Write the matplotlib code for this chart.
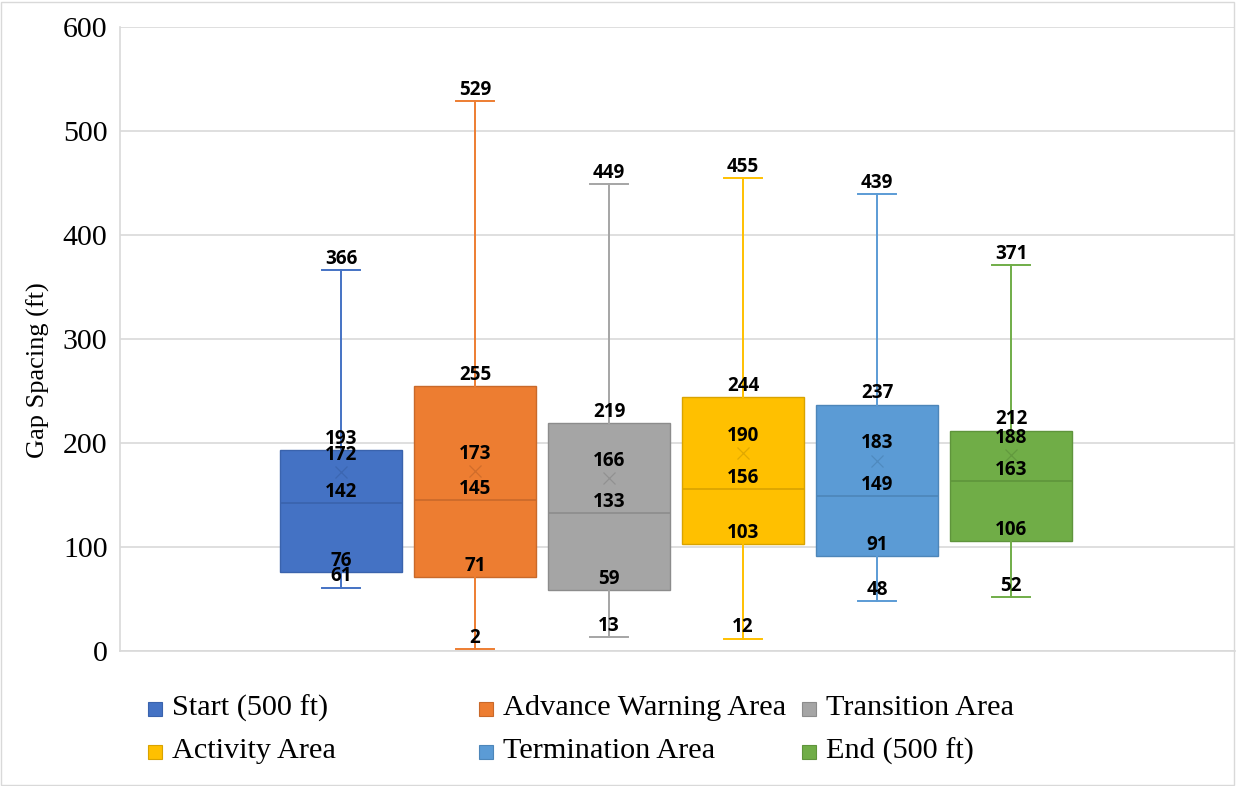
import matplotlib
matplotlib.use("Agg")
import matplotlib.pyplot as plt
from matplotlib.patches import Rectangle

# Summary statistics per work-zone segment (gap spacing in ft)
series_names = ["Start (500 ft)", "Advance Warning Area", "Transition Area",
                "Activity Area", "Termination Area", "End (500 ft)"]
whisker_low = [61, 2, 13, 12, 48, 52]
q1_values = [76, 71, 59, 103, 91, 106]
median_values = [142, 145, 133, 156, 149, 163]
mean_values = [172, 173, 166, 190, 183, 188]
q3_values = [193, 255, 219, 244, 237, 212]
whisker_high = [366, 529, 449, 455, 439, 371]

y_ticks = [0, 100, 200, 300, 400, 500, 600]

fill_colors = ["#4472C4", "#ED7D31", "#A5A5A5", "#FFC000", "#5B9BD5", "#70AD47"]
edge_colors = ["#3A63AD", "#C9692A", "#8C8C8C", "#D9A300", "#4D86B9", "#5F943C"]

W, H = 1236, 786
fig = plt.figure(figsize=(W / 100, H / 100), dpi=100)
ax = fig.add_axes([120 / W, 1 - 651 / H, (1235 - 120) / W, (651 - 27) / H])

grid_c = "#D9D9D9"
positions = list(range(1, len(series_names) + 1))
lab_font = dict(family=["Open Sans", "DejaVu Sans"], weight="bold", size=13.6, color="black")

for i, pos in enumerate(positions):
    stats = [dict(med=median_values[i], q1=q1_values[i], q3=q3_values[i],
                  whislo=whisker_low[i], whishi=whisker_high[i],
                  mean=mean_values[i], fliers=[])]
    ax.bxp(stats, positions=[pos], widths=0.91, capwidths=0.28,
           patch_artist=True, showmeans=True, showfliers=False,
           boxprops=dict(facecolor=fill_colors[i], edgecolor=edge_colors[i], linewidth=1.0),
           medianprops=dict(color=edge_colors[i], linewidth=1.2),
           whiskerprops=dict(color=fill_colors[i], linewidth=1.4),
           capprops=dict(color=fill_colors[i], linewidth=1.4),
           meanprops=dict(marker="x", markersize=9, markeredgecolor=edge_colors[i],
                          markeredgewidth=0.9, alpha=0.8),
           zorder=3)

    # value labels sit just above each statistic
    for v in (whisker_low[i], q1_values[i], median_values[i], q3_values[i], whisker_high[i]):
        ax.annotate(f"{v}", (pos, v), xytext=(0, 8), textcoords="offset points",
                    ha="center", va="center", zorder=5, **lab_font)
    ax.annotate(f"{mean_values[i]}", (pos, mean_values[i]), xytext=(0, 12.5),
                textcoords="offset points", ha="center", va="center", zorder=5, **lab_font)

ax.set_xlim(1 - 1.65, 1 - 1.65 + 1115 / 134)
ax.set_ylim(0, 600)
ax.set_yticks(y_ticks)
ax.set_yticklabels([str(t) for t in y_ticks], family="Liberation Serif", fontsize=21.5)
ax.set_xticks([])
ax.tick_params(axis="y", length=0, pad=9)
ax.yaxis.grid(True, color=grid_c, linewidth=1.2, zorder=0)
ax.set_axisbelow(True)
for side in ("top", "right"):
    ax.spines[side].set_visible(False)
for side in ("left", "bottom"):
    ax.spines[side].set_color(grid_c)
    ax.spines[side].set_linewidth(1.2)

fig.text(38 / W, 1 - 370 / H, "Gap Spacing (ft)", rotation=90, ha="center", va="center",
         family="Liberation Serif", fontsize=19)

# legend laid out in a 3 x 2 grid below the plot
col_x = [148, 479, 802]
row_y = [708, 751]
for i, name in enumerate(series_names):
    cx = col_x[i % 3]
    cy = row_y[i // 3]
    fig.add_artist(Rectangle((cx / W, 1 - (cy + 8) / H), 14 / W, 14 / H,
                             transform=fig.transFigure, facecolor=fill_colors[i],
                             edgecolor=edge_colors[i], linewidth=0.8))
    fig.text((cx + 24) / W, 1 - cy / H, name, ha="left", va="center",
             family="Liberation Serif", fontsize=21.8)

# outer chart border
fig.add_artist(Rectangle((1 / W, 1 / H), (W - 3) / W, (H - 3) / H, transform=fig.transFigure,
                         facecolor="none", edgecolor=grid_c, linewidth=1.0))

fig.savefig("out.png", dpi=100)
